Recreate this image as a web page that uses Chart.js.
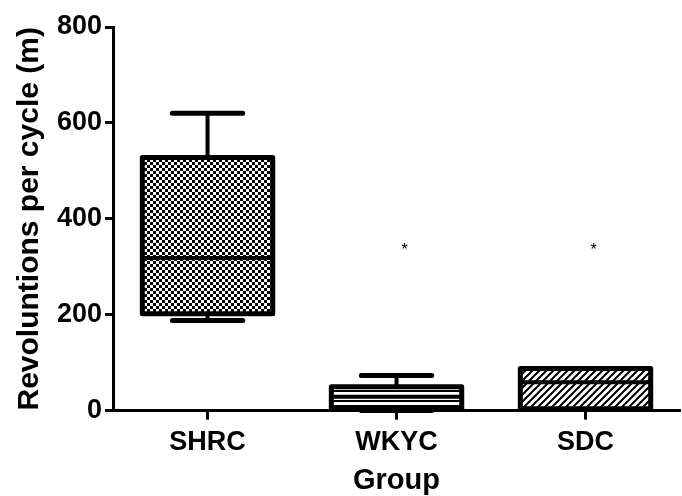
<!DOCTYPE html>
<html>
<head>
<meta charset="utf-8">
<script src="https://cdn.jsdelivr.net/npm/chart.js@4.4.1/dist/chart.umd.min.js"></script>
<style>
  html, body { margin: 0; padding: 0; background: #fff; }
  #wrap { width: 682px; height: 496px; }
</style>
</head>
<body>
<div id="wrap"><canvas id="c" width="682" height="496"></canvas></div>
<script>
// Box-plot summary per group (revolutions per cycle, m)
const categories = ['SHRC', 'WKYC', 'SDC'];
const whiskerMax = [620, 73, 88];
const upperQuartile = [528, 50, 88];
const medianValues = [318, 29, 59];
const lowerQuartile = [202, 4, 4];
const whiskerMin = [188, 0, 4];
const outlierValues = [null, 339, 339];
const yTicks = [0, 200, 400, 600, 800];

const FONT = "'Liberation Sans', Arial, sans-serif";

// Fill patterns for the three boxes
function makePattern(size, draw) {
  const c = document.createElement('canvas');
  c.width = size; c.height = size;
  const g = c.getContext('2d');
  g.fillStyle = '#fff';
  g.fillRect(0, 0, size, size);
  g.fillStyle = '#000';
  g.strokeStyle = '#000';
  draw(g, size);
  return document.getElementById('c').getContext('2d').createPattern(c, 'repeat');
}
const checker = makePattern(6, (g) => {
  g.fillRect(0, 0, 3, 3);
  g.fillRect(3, 3, 3, 3);
});
const hLines = makePattern(5, (g, s) => {
  g.fillRect(0, 0, s, 2);
});
const hatch = makePattern(7, (g, s) => {
  g.lineWidth = 2;
  g.beginPath();
  g.moveTo(-1, s + 1); g.lineTo(s + 1, -1);
  g.moveTo(-1, 1); g.lineTo(1, -1);
  g.moveTo(s - 1, s + 1); g.lineTo(s + 1, s - 1);
  g.stroke();
});

// Whiskers, outlines, medians and outlier asterisks
const boxDecor = {
  id: 'boxDecor',
  afterDatasetsDraw(chart) {
    const ctx = chart.ctx;
    const yScale = chart.scales.y;
    const meta = chart.getDatasetMeta(0);
    ctx.save();
    ctx.strokeStyle = '#000';
    ctx.fillStyle = '#000';
    meta.data.forEach((bar, i) => {
      const x = bar.x;
      const half = bar.width / 2;
      const capHalf = bar.width * 0.27;
      const yTop = yScale.getPixelForValue(upperQuartile[i]);
      const yBot = yScale.getPixelForValue(lowerQuartile[i]);
      const yMax = yScale.getPixelForValue(whiskerMax[i]);
      const yMin = yScale.getPixelForValue(whiskerMin[i]);
      const yMed = yScale.getPixelForValue(medianValues[i]);

      ctx.lineCap = 'round';
      if (whiskerMax[i] > upperQuartile[i]) {
        ctx.lineWidth = 4;
        ctx.beginPath(); ctx.moveTo(x, yTop); ctx.lineTo(x, yMax); ctx.stroke();
        ctx.lineWidth = 5;
        ctx.beginPath(); ctx.moveTo(x - capHalf, yMax); ctx.lineTo(x + capHalf, yMax); ctx.stroke();
      }
      if (whiskerMin[i] < lowerQuartile[i]) {
        ctx.lineWidth = 4;
        ctx.beginPath(); ctx.moveTo(x, yBot); ctx.lineTo(x, yMin); ctx.stroke();
        ctx.lineWidth = 5;
        ctx.beginPath(); ctx.moveTo(x - capHalf, yMin); ctx.lineTo(x + capHalf, yMin); ctx.stroke();
      }

      ctx.lineCap = 'butt';
      ctx.lineJoin = 'round';
      ctx.lineWidth = 5;
      ctx.strokeRect(x - half, yTop, bar.width, yBot - yTop);

      ctx.lineWidth = 4;
      ctx.beginPath(); ctx.moveTo(x - half, yMed); ctx.lineTo(x + half, yMed); ctx.stroke();

      if (outlierValues[i] !== null) {
        const yo = yScale.getPixelForValue(outlierValues[i]);
        ctx.font = '16px ' + FONT;
        ctx.textAlign = 'center';
        ctx.textBaseline = 'middle';
        ctx.fillText('*', x + 8, yo + 3);
      }
    });
    ctx.restore();
  }
};

new Chart(document.getElementById('c'), {
  type: 'bar',
  data: {
    labels: categories,
    datasets: [{
      data: categories.map((_, i) => [lowerQuartile[i], upperQuartile[i]]),
      backgroundColor: [checker, hLines, hatch],
      borderWidth: 0,
      barPercentage: 0.69,
      categoryPercentage: 1
    }]
  },
  options: {
    responsive: false,
    animation: false,
    layout: { padding: { left: 12, right: 2, top: 27, bottom: 1 } },
    plugins: { legend: { display: false }, tooltip: { enabled: false } },
    scales: {
      x: {
        offset: true,
        grid: {
          offset: false,
          drawOnChartArea: false,
          drawTicks: true,
          tickLength: 9,
          tickWidth: 3,
          tickColor: '#000'
        },
        border: { display: true, color: '#000', width: 3 },
        ticks: {
          color: '#000',
          padding: 7,
          font: { family: FONT, size: 27, weight: 'bold' }
        },
        title: {
          display: true,
          text: 'Group',
          color: '#000',
          padding: { top: 0, bottom: 0 },
          font: { family: FONT, size: 29, weight: 'bold', lineHeight: 1 }
        }
      },
      y: {
        min: 0,
        max: 800,
        afterBuildTicks(scale) { scale.ticks = yTicks.map(v => ({ value: v })); },
        grid: {
          drawOnChartArea: false,
          drawTicks: true,
          tickLength: 8,
          tickWidth: 3,
          tickColor: '#000'
        },
        border: { display: true, color: '#000', width: 3 },
        ticks: {
          color: '#000',
          padding: 3,
          font: { family: FONT, size: 27, weight: 'bold' }
        },
        title: {
          display: true,
          text: 'Revoluntions per cycle (m)',
          color: '#000',
          padding: { top: 0, bottom: 6 },
          font: { family: FONT, size: 30, weight: 'bold' }
        }
      }
    }
  },
  plugins: [boxDecor]
});
</script>
</body>
</html>
